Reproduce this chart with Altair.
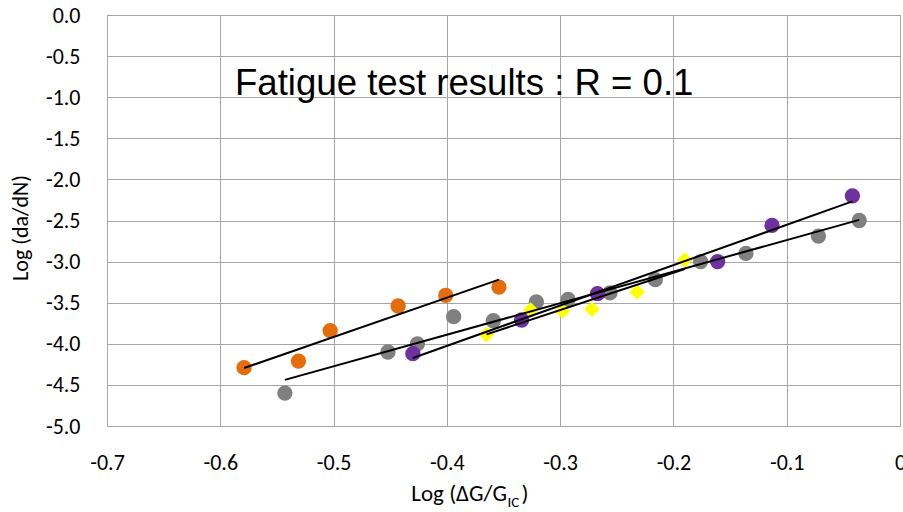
import altair as alt
import pandas as pd

# ---- data ----
orange_x = [-0.579, -0.531, -0.503, -0.443, -0.401, -0.354]
orange_y = [-4.29, -4.21, -3.84, -3.54, -3.41, -3.31]

gray_x = [-0.543, -0.452, -0.426, -0.394, -0.359, -0.321, -0.293, -0.256,
          -0.216, -0.176, -0.136, -0.072, -0.036]
gray_y = [-4.60, -4.10, -4.00, -3.67, -3.72, -3.49, -3.46, -3.38,
          -3.22, -3.00, -2.90, -2.69, -2.50]

purple_x = [-0.430, -0.334, -0.267, -0.161, -0.113, -0.042]
purple_y = [-4.12, -3.71, -3.39, -3.00, -2.56, -2.20]

yellow_x = [-0.365, -0.326, -0.298, -0.272, -0.232, -0.190]
yellow_y = [-3.89, -3.59, -3.60, -3.58, -3.37, -2.98]

series_names = ["orange", "gray", "purple", "yellow"]
series_colors = ["#E46C0A", "#808080", "#7030A0", "#FFFF00"]

x_ticks = [-0.7, -0.6, -0.5, -0.4, -0.3, -0.2, -0.1, 0.0]
y_ticks = [0.0, -0.5, -1.0, -1.5, -2.0, -2.5, -3.0, -3.5, -4.0, -4.5, -5.0]

title_text = "Fatigue test results : R = 0.1"
y_title = "Log (da/dN)"
x_title_main = "Log (\u0394G/G"
x_title_sub = "IC"
x_title_end = ")"

# ---- build table ----
rows = []
for name, xs, ys in [("orange", orange_x, orange_y), ("gray", gray_x, gray_y),
                     ("purple", purple_x, purple_y), ("yellow", yellow_x, yellow_y)]:
    for a, b in zip(xs, ys):
        rows.append({"series": name, "x": a, "y": b, "order": len(rows)})
df = pd.DataFrame(rows)

xscale = alt.Scale(domain=[-0.7, 0.0], nice=False, zero=False)
yscale = alt.Scale(domain=[-5.0, 0.0], nice=False, zero=False)
color_scale = alt.Scale(domain=series_names, range=series_colors)

FONT = "Carlito, Lato, Open Sans, sans-serif"
LBL = 22

base = alt.Chart(df)

circles = base.transform_filter(alt.datum.series != "yellow").mark_point(
    shape="circle", filled=True, opacity=1, size=235, strokeWidth=0
).encode(
    x=alt.X("x:Q", scale=xscale,
            axis=alt.Axis(values=x_ticks, title=None, grid=True, domain=False, ticks=False,
                          labelPadding=26, labelFontSize=LBL, labelFont=FONT, labelColor="#000000",
                          gridColor="#A6A6A6", gridWidth=1, labelFlush=False,
                          labelExpr="replace(datum.value == 0 ? '0' : format(datum.value, '.1f'), '\u2212', '-')")),
    y=alt.Y("y:Q", scale=yscale,
            axis=alt.Axis(values=y_ticks, title=None, grid=True, domain=False, ticks=False,
                          labelPadding=27, labelFontSize=LBL, labelFont=FONT, labelColor="#000000",
                          gridColor="#A6A6A6", gridWidth=1, labelFlush=False,
                          labelExpr="replace(format(datum.value, '.1f'), '\u2212', '-')")),
    color=alt.Color("series:N", scale=color_scale, legend=None),
    order="order:Q",
)

diamonds = base.transform_filter(alt.datum.series == "yellow").mark_point(
    shape="diamond", filled=True, opacity=1, size=240, strokeWidth=0
).encode(
    x=alt.X("x:Q", scale=xscale),
    y=alt.Y("y:Q", scale=yscale),
    color=alt.Color("series:N", scale=color_scale, legend=None),
)

trend = base.transform_regression("x", "y", groupby=["series"]).mark_line(
    color="#000000", strokeWidth=2
).encode(
    x=alt.X("x:Q", scale=xscale),
    y=alt.Y("y:Q", scale=yscale),
    detail="series:N",
)

one = pd.DataFrame({"t": [title_text]})
title_mark = alt.Chart(one).mark_text(
    font="Liberation Sans", fontSize=36.6, align="left", baseline="alphabetic", color="#000000"
).encode(text=alt.value(title_text), x=alt.value(128), y=alt.value(80))

ytitle_mark = alt.Chart(one).mark_text(
    font=FONT, fontSize=22, align="center", baseline="middle", angle=270, color="#000000"
).encode(text=alt.value(y_title), x=alt.value(-86), y=alt.value(213))

xt_main = alt.Chart(one).mark_text(
    font=FONT, fontSize=23, align="right", baseline="alphabetic", color="#000000"
).encode(text=alt.value(x_title_main), x=alt.value(400), y=alt.value(486))

xt_sub = alt.Chart(one).mark_text(
    font=FONT, fontSize=15, align="left", baseline="alphabetic", color="#000000"
).encode(text=alt.value(x_title_sub), x=alt.value(400.5), y=alt.value(492))

xt_end = alt.Chart(one).mark_text(
    font=FONT, fontSize=23, align="left", baseline="alphabetic", color="#000000"
).encode(text=alt.value(x_title_end), x=alt.value(414.5), y=alt.value(486))

chart = alt.layer(
    circles, diamonds, trend, title_mark, ytitle_mark, xt_main, xt_sub, xt_end
).properties(
    width=793, height=411,
    autosize=alt.AutoSizeParams(type="none"),
    padding={"left": 107, "top": 15, "right": 3, "bottom": 86},
    background="#FFFFFF",
).configure_view(
    stroke="#A6A6A6", strokeWidth=1
)

chart.save("out.html", embed_options={"renderer": "svg", "actions": False})
